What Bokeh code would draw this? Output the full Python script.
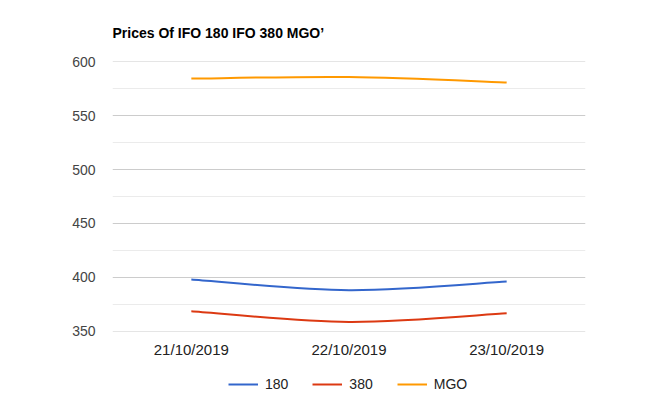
from bokeh.plotting import figure
from bokeh.layouts import column
from bokeh.models import (Range1d, FixedTicker, Legend, LegendItem,
                          ColumnDataSource)
from bokeh.embed import file_html
from bokeh.resources import INLINE

title = "Prices Of IFO 180 IFO 380 MGO\u2019"
dates = ["21/10/2019", "22/10/2019", "23/10/2019"]
ifo180 = [398, 388, 396]
ifo380 = [368.5, 358.5, 366.5]
mgo = [584.5, 586, 581]
series_names = ["180", "380", "MGO"]
series_colors = ["#3366cc", "#dc3912", "#ff9900"]
y_ticks = [350, 400, 450, 500, 550, 600]
y_minor = [375, 425, 475, 525, 575]

FONT = "Liberation Sans"

p = figure(width=643, height=360, output_backend="svg", toolbar_location=None,
           x_range=Range1d(-0.5, 2.5), y_range=Range1d(349.6, 600.4),
           min_border_left=112, min_border_right=58,
           min_border_top=61, min_border_bottom=29)
p.outline_line_color = None
p.background_fill_color = "white"
p.border_fill_color = "white"

p.title.text = title
p.title.text_font = FONT
p.title.text_font_size = "14px"
p.title.text_font_style = "bold"
p.title.text_color = "#000000"
p.title.align = "left"
p.title.offset = 0
p.title.standoff = 42

# axes
p.xaxis.ticker = FixedTicker(ticks=list(range(len(dates))))
p.xaxis.major_label_overrides = {i: d for i, d in enumerate(dates)}
p.yaxis.ticker = FixedTicker(ticks=y_ticks, minor_ticks=y_minor)
for ax in (p.xaxis[0], p.yaxis[0]):
    ax.axis_line_color = None
    ax.major_tick_line_color = None
    ax.minor_tick_line_color = None
    ax.major_label_text_font = FONT
p.xaxis.major_label_text_font_size = "15px"
p.yaxis.major_label_text_font_size = "14px"
p.xaxis.major_label_text_color = "#222222"
p.yaxis.major_label_text_color = "#444444"
p.xaxis.major_label_standoff = 3
p.yaxis.major_label_standoff = 11

p.xgrid.grid_line_color = None
p.ygrid.grid_line_color = "#cccccc"
p.ygrid.minor_grid_line_color = "#ebebeb"
p.ygrid.grid_line_width = 1


def smooth(xs, ys, t=1 / 6):
    n = len(xs)
    pts = list(zip(xs, ys))
    x0, y0, x1, y1, cx0, cy0, cx1, cy1 = [], [], [], [], [], [], [], []
    for i in range(n - 1):
        pm = pts[max(i - 1, 0)]
        pa = pts[i]
        pb = pts[i + 1]
        pn = pts[min(i + 2, n - 1)]
        x0.append(pa[0]); y0.append(pa[1])
        x1.append(pb[0]); y1.append(pb[1])
        cx0.append(pa[0] + (pb[0] - pm[0]) * t)
        cy0.append(pa[1] + (pb[1] - pm[1]) * t)
        cx1.append(pb[0] - (pn[0] - pa[0]) * t)
        cy1.append(pb[1] - (pn[1] - pa[1]) * t)
    return ColumnDataSource(dict(x0=x0, y0=y0, x1=x1, y1=y1,
                                 cx0=cx0, cy0=cy0, cx1=cx1, cy1=cy1))


xs = list(range(len(dates)))
for name, vals, col in zip(series_names, [ifo180, ifo380, mgo], series_colors):
    src = smooth(xs, vals)
    p.bezier(x0="x0", y0="y0", x1="x1", y1="y1", cx0="cx0", cy0="cy0",
             cx1="cx1", cy1="cy1", source=src, line_color=col, line_width=2)

# legend strip below the chart (its frame aligns with the chart's frame)
q = figure(width=643, height=32, output_backend="svg", toolbar_location=None,
           x_range=Range1d(0, 1), y_range=Range1d(0, 1),
           x_axis_location=None, y_axis_location=None,
           min_border=0, min_border_left=0, min_border_right=0,
           min_border_top=0, min_border_bottom=0)
q.outline_line_color = None
q.xgrid.visible = False
q.ygrid.visible = False
items = []
for name, col in zip(series_names, series_colors):
    r = q.line(x=[float("nan")], y=[float("nan")], line_color=col,
               line_width=2)
    items.append(LegendItem(label=name, renderers=[r]))
legend = Legend(items=items, orientation="horizontal", location=(116, 0),
                glyph_width=30, glyph_height=14, label_height=14,
                label_standoff=7, spacing=24, padding=0, margin=0,
                border_line_color=None, background_fill_alpha=0,
                label_text_font=FONT, label_text_font_size="14px",
                label_text_color="#222222")
q.add_layout(legend, "center")

layout = column(p, q, spacing=0)
open("out.html", "w").write(file_html(layout, INLINE))
